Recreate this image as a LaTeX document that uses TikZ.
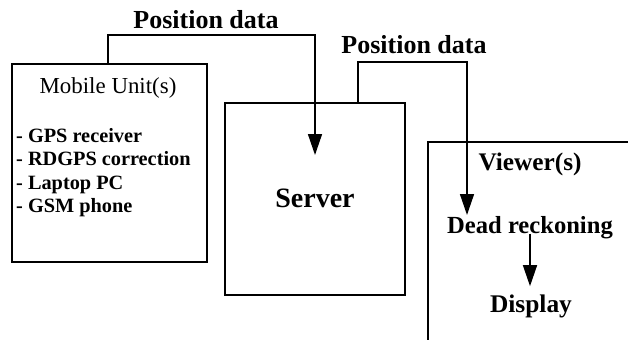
\documentclass[tikz,border=0pt]{standalone}
\usepackage{fontspec}
\setmainfont{Liberation Serif}
\usetikzlibrary{arrows.meta}
\begin{document}
\begin{tikzpicture}[x=1pt,y=-1pt,
  box/.style={draw,line width=1.5pt,minimum width=#1,inner sep=0pt},
  wire/.style={line width=1.5pt},
  flow/.style={line width=1.5pt,-{Triangle[length=21pt,width=14pt]}},
  lbl/.style={font=\fontsize{#1}{26}\selectfont\bfseries,inner sep=0pt,anchor=base},
  item/.style={font=\fontsize{20.3}{23}\selectfont\bfseries,inner sep=0pt,anchor=base west}]
  \useasboundingbox (0,0) rectangle (628,343);

  % mobile unit box and its contents
  \node[box=195pt,minimum height=198pt] (mobile) at (109.5,163) {};
  \node[font=\fontsize{22.9}{26}\selectfont,inner sep=0pt,anchor=base] (mtitle) at (108,93) {Mobile Unit(s)};
  \node[item] (i1) at (16,142) {- GPS receiver};
  \node[item] (i2) at (16,165.5) {- RDGPS correction};
  \node[item] (i3) at (16,189) {- Laptop PC};
  \node[item] (i4) at (16,212.5) {- GSM phone};

  % server box
  \node[box=180pt,minimum height=192pt] (server) at (315,199) {};
  \node[lbl=28] (stitle) at (315,207) {Server};

  % viewer frame, open to the right and below
  \coordinate (vcorner) at (428,142);
  \draw[wire] (628,142) -- (vcorner) -- (428,340);
  \node[lbl=25.3] (vtitle) at (530,170) {Viewer(s)};
  \node[lbl=24.6] (dr) at (530,233) {Dead reckoning};
  \node[lbl=25.4] (disp) at (531,312) {Display};

  % position data links
  \coordinate (tip1) at (315,155);
  \draw[flow] ([xshift=-1.5pt]mobile.north) |- (206,35) -| (tip1);
  \node[lbl=26] (pd1) at (206,28) {Position data};

  \coordinate (sout) at (358,103);
  \coordinate (tip2) at (467,215);
  \draw[flow] (sout) |- (414,62) -| (tip2);
  \node[lbl=26] (pd2) at (414,53) {Position data};

  % dead reckoning to display
  \draw[flow,shorten <=-5pt,shorten >=8pt] (dr.south -| 530,0) -- (disp.north -| 530,0);
\end{tikzpicture}
\end{document}
